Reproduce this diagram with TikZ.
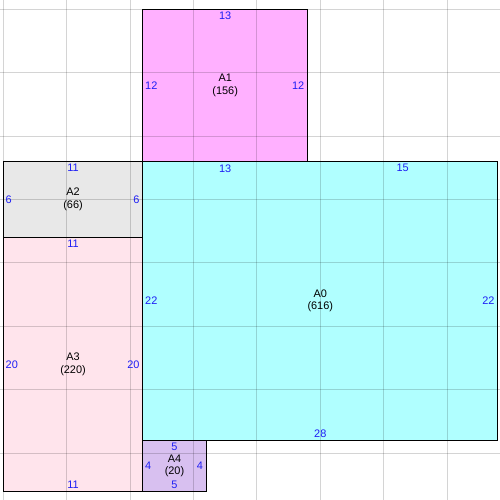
\documentclass[tikz,border=0pt]{standalone}
\usepackage{fontspec}
\setmainfont{Liberation Sans}
\definecolor{lenblue}{RGB}{30,30,245}
\definecolor{fillA0}{RGB}{176,255,255}
\definecolor{fillA1}{RGB}{255,176,255}
\definecolor{fillA2}{RGB}{232,232,232}
\definecolor{fillA3}{RGB}{255,228,236}
\definecolor{fillA4}{RGB}{216,192,240}
\begin{document}
\begin{tikzpicture}[x=9.51pt,y=-9.51pt,
  room/.style={draw=black,line width=0.9pt},
  len/.style={text=lenblue,inner sep=0pt,font=\fontsize{8.2}{9.3}\selectfont},
  lentop/.style={len,anchor=north,yshift=-2pt},
  lenbot/.style={len,anchor=south,yshift=1.6pt},
  lenleft/.style={len,anchor=west,xshift=1.6pt},
  lenright/.style={len,anchor=east,xshift=-2.3pt},
  roomname/.style={align=center,inner sep=0pt,font=\fontsize{8.2}{9.3}\selectfont},
  gridline/.style={black,opacity=0.17,line width=0.8pt}]
\useasboundingbox (-0.26,-0.733) rectangle (39.17,38.70);
% fills
\fill[fillA1] (11,0) rectangle (24,12);
\fill[fillA0] (11,12) rectangle (39,34);
\fill[fillA2] (0,12) rectangle (11,18);
\fill[fillA3] (0,18) rectangle (11,38);
\fill[fillA4] (11,34) rectangle (16,38);
% grid
\foreach \i in {0,5,...,35} {
  \draw[gridline] (\i,-0.733) -- (\i,38.70);
  \draw[gridline] (-0.26,\i) -- (39.17,\i);
}
% outlines
\draw[room] (11,0) rectangle (24,12);
\draw[room] (11,12) rectangle (39,34);
\draw[room] (0,12) rectangle (11,18);
\draw[room] (0,18) rectangle (11,38);
\draw[room] (11,34) rectangle (16,38);
% A1
\node[lentop] (a1t) at (17.5,0) {13};
\node[lenleft] (a1l) at (11,6) {12};
\node[lenright] (a1r) at (24,6) {12};
\node[roomname] (a1n) at (17.5,6) {A1\\(156)};
% A0
\node[lentop] (a0t1) at (17.5,12) {13};
\node[lentop] (a0t2) at (31.5,12) {15};
\node[lenleft] (a0l) at (11,23) {22};
\node[lenright] (a0r) at (39,23) {22};
\node[lenbot] (a0b) at (25,34) {28};
\node[roomname] (a0n) at (25,23) {A0\\(616)};
% A2
\node[lentop] (a2t) at (5.5,12) {11};
\node[lenleft] (a2l) at (0,15) {6};
\node[lenright] (a2r) at (11,15) {6};
\node[roomname] (a2n) at (5.5,15) {A2\\(66)};
% A3
\node[lentop] (a3t) at (5.5,18) {11};
\node[lenleft] (a3l) at (0,28) {20};
\node[lenright] (a3r) at (11,28) {20};
\node[lenbot] (a3b) at (5.5,38) {11};
\node[roomname] (a3n) at (5.5,28) {A3\\(220)};
% A4
\node[lentop] (a4t) at (13.5,34) {5};
\node[lenleft] (a4l) at (11,36) {4};
\node[lenright] (a4r) at (16,36) {4};
\node[lenbot] (a4b) at (13.5,38) {5};
\node[roomname] (a4n) at (13.5,36) {A4\\(20)};
\end{tikzpicture}
\end{document}
